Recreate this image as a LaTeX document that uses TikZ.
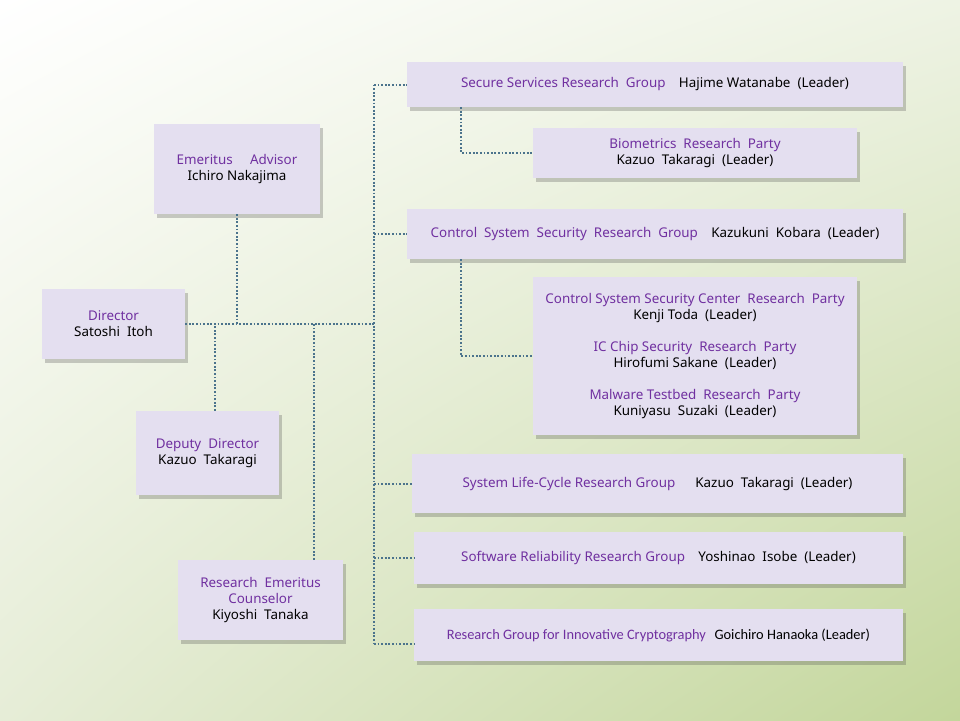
\documentclass[tikz,border=0pt]{standalone}
\usepackage{fontspec}
\setmainfont{Noto Sans}
\newfontfamily\carl{Carlito}
\usetikzlibrary{shadows,shadings}
\definecolor{boxfill}{RGB}{228,223,240}
\definecolor{purp}{RGB}{112,48,160}
\definecolor{connc}{RGB}{75,115,140}
\definecolor{bgtr}{RGB}{238,243,228}
\definecolor{bgbl}{RGB}{230,237,215}
\definecolor{bgbr}{RGB}{195,214,155}
\begin{document}
\begin{tikzpicture}[x=1pt,y=-1pt,
  box/.style={fill=boxfill, draw=none, align=center, inner sep=0pt,
    font=\fontsize{13.4}{16}\selectfont,
    drop shadow={shadow xshift=3pt, shadow yshift=-4pt, opacity=0.28, fill=black!70}},
  link/.style={draw=connc, line width=2pt, dash pattern=on 1.8pt off 1.8pt}]
\useasboundingbox (0,0) rectangle (960,720);
\shade[upper left=white, upper right=bgtr, lower left=bgbl, lower right=bgbr] (0,0) rectangle (960,720);

% left column
\node[box, minimum width=166, minimum height=90] (em) at (237,169)
  {{\color{purp}Emeritus\hspace{1.3em}Advisor}\\Ichiro Nakajima};
\node[box, minimum width=143, minimum height=70] (dir) at (113.5,324)
  {{\color{purp}Director}\\Satoshi\ \ Itoh};
\node[box, minimum width=143, minimum height=84] (dep) at (207.5,453)
  {{\color{purp}Deputy\ \ Director}\\Kazuo\ \ Takaragi};
\node[box, minimum width=165, minimum height=80] (rc) at (260.5,600)
  {{\color{purp}Research\ \ Emeritus}\\{\color{purp}Counselor}\\Kiyoshi\ \ Tanaka};

% right column
\node[box, minimum width=496, minimum height=45] (ss) at (655,84.5)
  {{\color{purp}Secure Services Research\ \ Group}\hspace{1em}Hajime Watanabe\ \ (Leader)};
\node[box, minimum width=324, minimum height=50] (bio) at (695,153)
  {{\color{purp}Biometrics\ \ Research\ \ Party}\\Kazuo\ \ Takaragi\ \ (Leader)};
\node[box, minimum width=496, minimum height=50] (cs) at (655,234)
  {{\color{purp}Control\ \ System\ \ Security\ \ Research\ \ Group}\hspace{1em}Kazukuni\ \ Kobara\ \ (Leader)};
\node[box, minimum width=324, minimum height=158] (bp) at (695,356)
  {{\color{purp}Control System Security Center\ \ Research\ \ Party}\\Kenji Toda\ \ (Leader)\\[16pt]
   {\color{purp}IC Chip Security\ \ Research\ \ Party}\\Hirofumi Sakane\ \ (Leader)\\[16pt]
   {\color{purp}Malware Testbed\ \ Research\ \ Party}\\Kuniyasu\ \ Suzaki\ \ (Leader)};
\node[box, minimum width=491, minimum height=59] (sl) at (657.5,483.5)
  {{\color{purp}System Life-Cycle Research Group}\hspace{1.5em}Kazuo\ \ Takaragi\ \ (Leader)};
\node[box, minimum width=489, minimum height=52] (sr) at (658.5,558)
  {{\color{purp}Software Reliability Research Group}\hspace{1em}Yoshinao\ \ Isobe\ \ (Leader)};
\node[box, minimum width=489, minimum height=52, font=\carl\fontsize{14.4}{16}\selectfont] (ic) at (658.5,635)
  {{\color{purp}Research Group for Innovative Cryptography}\hspace{0.6em}Goichiro Hanaoka (Leader)};

% connectors
\coordinate (tx) at (374,0);
\coordinate (sx) at (461,0);
\coordinate (icb) at ([yshift=-9pt]ic.west);
\draw[link] (dir.east) -- (dir.east -| tx);
\draw[link] (em.south) -- (em.south |- dir.east);
\draw[link] ([xshift=7.5pt]dep.north) -- ([xshift=7.5pt]dep.north |- dir.east);
\draw[link] ([xshift=53.5pt]rc.north) -- ([xshift=53.5pt]rc.north |- dir.east);
\draw[link] (ss.west -| tx) -- (icb -| tx);
\draw[link] (ss.west -| tx) -- (ss.west);
\draw[link] (cs.west -| tx) -- (cs.west);
\draw[link] (sl.west -| tx) -- (sl.west);
\draw[link] (sr.west -| tx) -- (sr.west);
\draw[link] (icb -| tx) -- (icb);
\draw[link] (ss.south -| sx) |- (bio.west);
\draw[link] (cs.south -| sx) |- (bp.west);
\end{tikzpicture}
\end{document}
